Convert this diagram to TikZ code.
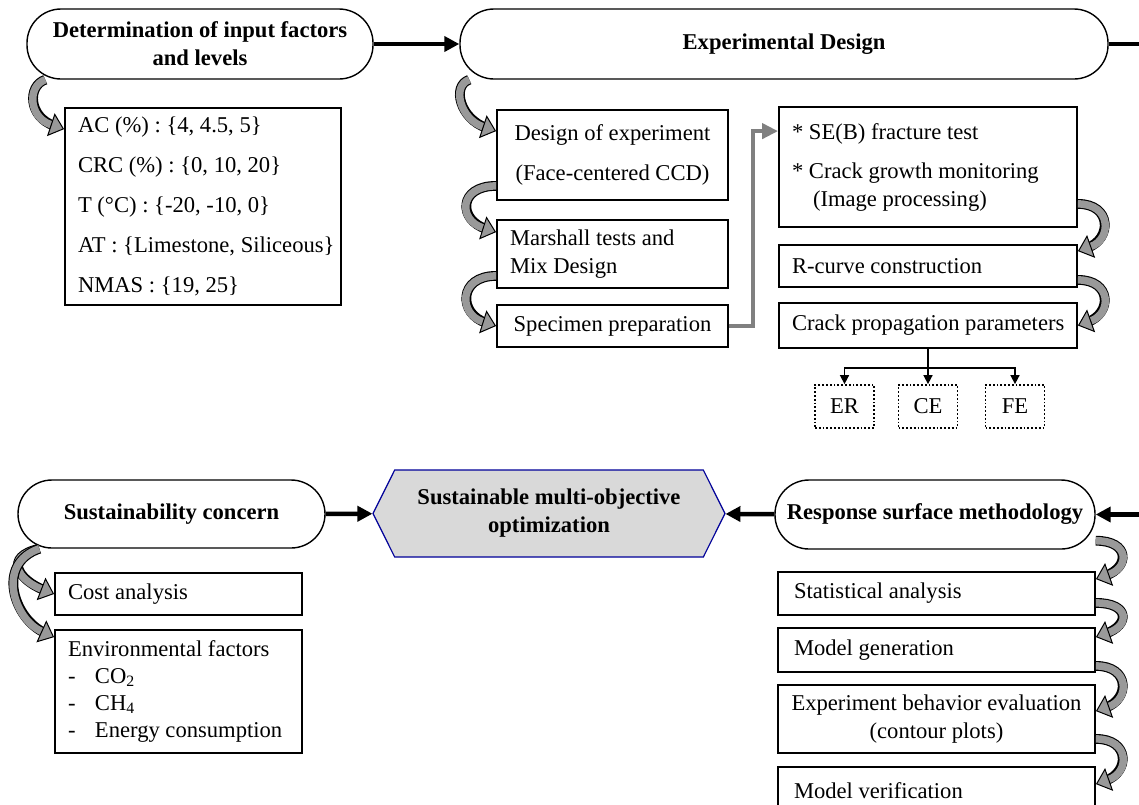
\documentclass[tikz,border=0pt]{standalone}
\usepackage{fontspec}
\setmainfont{Liberation Serif}
\usetikzlibrary{arrows.meta,shapes.symbols}

\begin{document}
\begin{tikzpicture}[x=1pt, y=-1pt,
    font=\fontsize{22.6}{28}\selectfont\frenchspacing,
    pill/.style={draw, line width=1.4pt, rounded corners=34pt, align=center,
      font=\fontsize{22.6}{28}\selectfont\bfseries},
    box/.style={draw, line width=1.8pt, inner xsep=13pt, inner ysep=0pt, align=flush left},
    dotbox/.style={draw, dotted, line width=1.8pt, minimum width=59pt,
      minimum height=43pt, inner sep=0pt},
    bigarr/.style={line width=4.5pt, -{Triangle[width=15pt,length=15pt]}},
    thinarr/.style={line width=1.6pt, -{Triangle[width=9pt,length=9pt]}},
    grayarr/.style={draw=black!50, line width=4.5pt, -{Triangle[width=15pt,length=16pt]}},
    curlarr/.style={line width=7.5pt, draw=black!40,
      -{Triangle[width=24pt,length=14pt,line width=1pt,color=black,fill=black!40]},
      preaction={draw=black, line width=9.8pt, -, shorten >=10pt}}]
  \useasboundingbox[fill=white] (0,0) rectangle (1139,804);

  \node[pill, minimum width=346pt, minimum height=70pt] (det) at (200,44)
    {Determination of input factors\\and levels};
  \node[pill, minimum width=648pt, minimum height=70pt] (ed) at (784,44)
    {Experimental Design};
  \node[box, text width=250pt, minimum height=197pt,
    font=\fontsize{22.6}{40}\selectfont\frenchspacing] (fac) at (203,206.5)
    {AC (\%) : \{4, 4.5, 5\}\\CRC (\%) : \{0, 10, 20\}\\T (°C) : \{-20, -10, 0\}\\
     \mbox{AT : \{Limestone, Siliceous\}}\\NMAS : \{19, 25\}};

  \node[box, align=flush center, text width=205pt, minimum height=90pt,
    font=\fontsize{22.6}{40}\selectfont\frenchspacing] (doe) at (612.5,155)
    {Design of experiment\\(Face-centered CCD)};
  \node[box, text width=205pt, minimum height=68pt] (mar) at (612.5,254)
    {Marshall tests and\\Mix Design};
  \node[box, align=flush center, text width=205pt, minimum height=42pt] (spec) at (612.5,326)
    {Specimen preparation};

  \node[box, text width=272pt, minimum height=120pt] (seb) at (928,167)
    {* SE(B) fracture test\\[11pt]* Crack growth monitoring\\\hspace*{21pt}(Image processing)};
  \node[box, text width=272pt, minimum height=42pt] (rc) at (928,266)
    {R-curve construction};
  \node[box, inner xsep=11pt, text width=276pt, minimum height=45pt] (cpp) at (928,325.5)
    {\hspace*{2pt}Crack propagation parameters};
  \node[dotbox] (er) at (844.5,406.5) {ER};
  \node[dotbox] (ce) at (928,406.5) {CE};
  \node[dotbox] (fe) at (1015,406.5) {FE};

  \node[pill, minimum width=307pt, minimum height=68pt] (sus) at (171.5,514)
    {Sustainability concern};
  \node[signal, signal to=west and east, signal pointer angle=127, draw=blue!60!black,
    line width=1.2pt, fill=black!15, minimum width=352pt, minimum height=87pt,
    align=center, font=\fontsize{22.6}{28}\selectfont\bfseries] (opt) at (549,513.5)
    {Sustainable multi-objective\\optimization};
  \node[pill, minimum width=320pt, minimum height=69pt] (rsm) at (935,514.5)
    {Response surface methodology};

  \node[box, text width=221pt, minimum height=42pt] (cost) at (178.5,594)
    {Cost analysis};
  \node[box, text width=221pt, minimum height=123pt,
    font=\fontsize{22.6}{27}\selectfont\frenchspacing] (env) at (178.5,691.5)
    {Environmental factors\\\makebox[27pt][l]{-}CO\textsubscript{2}\\
     \makebox[27pt][l]{-}CH\textsubscript{4}\\\makebox[27pt][l]{-}Energy consumption};

  \node[box, text width=291pt, minimum height=43pt] (sta) at (936.5,593.5)
    {\hspace*{3pt}Statistical analysis};
  \node[box, text width=291pt, minimum height=44pt] (mg) at (936.5,650)
    {\hspace*{3pt}Model generation};
  \node[box, align=flush center, inner xsep=6pt, text width=305pt, minimum height=68pt]
    (ebe) at (936.5,719) {Experiment behavior evaluation\\(contour plots)};
  \node[box, text width=291pt, minimum height=48pt] (mv) at (936.5,791)
    {\hspace*{3pt}Model verification};

  \coordinate (edout) at (1150,44);
  \coordinate (rsmin) at (1150,514.5);
  \coordinate (split) at ([yshift=-19pt]cpp.south);

  \draw[bigarr] (det) -- (ed);
  \draw[line width=4.5pt] (ed) -- (edout);
  \draw[bigarr] (sus) -- (opt);
  \draw[bigarr] (rsm) -- (opt);
  \draw[bigarr] (rsmin) -- (rsm);

  \draw[grayarr] (spec.east) -- ++(24,0) |- ([yshift=-25pt]seb.north west);

  \draw[line width=1.6pt] (cpp.south) -- (split);
  \draw[thinarr] (split) -| (er.north);
  \draw[thinarr] (split) -- (ce.north);
  \draw[thinarr] (split) -| (fe.north);

  \draw[curlarr] ([xshift=19pt]det.south west) .. controls +(-18,6) and +(-36,-12) .. ([yshift=-22pt]fac.north west);
  \draw[curlarr] ([xshift=10pt]ed.south west) .. controls +(-18,6) and +(-36,-12) .. ([yshift=-22pt]doe.north west);
  \draw[curlarr] ([yshift=15pt]doe.south west) .. controls +(-38,0) and +(-38,-12) .. ([yshift=-13pt]mar.north west);
  \draw[curlarr] ([yshift=13pt]mar.south west) .. controls +(-38,0) and +(-38,-12) .. (spec.west);

  \draw[curlarr] ([yshift=24pt]seb.south east) .. controls +(34,0) and +(34,-12) .. ([yshift=-7pt]rc.north east);
  \draw[curlarr] ([yshift=8pt]rc.south east) .. controls +(34,0) and +(34,-12) .. (cpp.east);

  \draw[curlarr] ([xshift=22pt]sus.south west) .. controls +(-36,8) and +(-36,-14) .. (cost.west);
  \draw[curlarr] ([xshift=22pt]sus.south west) .. controls +(-44,15) and +(-40,-18) .. ([yshift=-8pt]env.north west);

  \draw[curlarr] ([yshift=9pt]rsm.south east) .. controls +(34,0) and +(34,-12) .. ([yshift=-8pt]sta.north east);
  \draw[curlarr] ([yshift=13pt]sta.south east) .. controls +(34,0) and +(34,-12) .. ([yshift=-10pt]mg.north east);
  \draw[curlarr] ([yshift=7pt]mg.south east) .. controls +(34,0) and +(34,-12) .. ([yshift=-27pt]ebe.north east);
  \draw[curlarr] ([yshift=15pt]ebe.south east) .. controls +(34,0) and +(34,-12) .. ([yshift=-18pt]mv.north east);
\end{tikzpicture}
\end{document}
